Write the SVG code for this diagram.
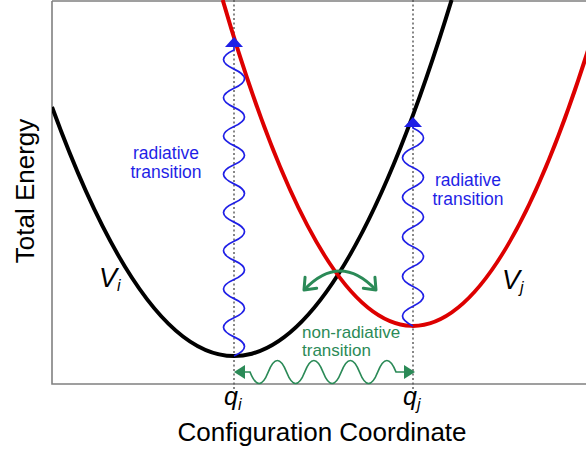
<svg xmlns="http://www.w3.org/2000/svg" width="586" height="454" viewBox="0 0 586 454">
  <style>
    .frame{fill:none;stroke:#808080;stroke-width:1.6}
    .guide{fill:none;stroke:#555;stroke-width:1.4;stroke-dasharray:2,2.5}
    .curve{fill:none;stroke-width:4}
    .blue{fill:none;stroke:#1f1fe6;stroke-width:1.7}
    .green{fill:none;stroke:#2b8a57;stroke-width:1.7}
    .greenarc{fill:none;stroke:#2b8a57;stroke-width:3}
    .lbl{font-family:"Liberation Sans",Arial,sans-serif;fill:#000}
    .it{font-style:italic}
    .bt{font-family:"Liberation Sans",Arial,sans-serif;fill:#1f1fe6;font-size:17.5px;text-anchor:middle}
    .gt{font-family:"Liberation Sans",Arial,sans-serif;fill:#2b8a57;font-size:17px}
  </style>
  <defs>
    <clipPath id="plot"><rect x="52" y="0" width="534" height="384"/></clipPath>
    <marker id="blueHead" viewBox="0 -9 10 18" refX="0" refY="0" markerWidth="10" markerHeight="18" markerUnits="userSpaceOnUse" orient="auto">
      <path d="M0,-9 L10,0 L0,9 z" fill="#1f1fe6"/>
    </marker>
    <marker id="greenHead" viewBox="0 -7 11 14" refX="0" refY="0" markerWidth="11" markerHeight="14" markerUnits="userSpaceOnUse" orient="auto-start-reverse">
      <path d="M0,-7 L11,0 L0,7 z" fill="#2b8a57"/>
    </marker>
    <marker id="greenChevron" viewBox="-13 -10 15 20" refX="0" refY="0" markerWidth="15" markerHeight="20" markerUnits="userSpaceOnUse" orient="auto-start-reverse" overflow="visible">
      <path d="M-10,-8 L0,0 L-10,8" fill="none" stroke="#2b8a57" stroke-width="3" stroke-linecap="round" stroke-linejoin="round"/>
    </marker>
  </defs>

  <g id="axes">
    <path class="frame" d="M52,1 H586 M52,1 V384 H586"/>
  </g>

  <g id="guides">
    <line class="guide" x1="234" y1="0" x2="234" y2="389"/>
    <line class="guide" x1="413" y1="0" x2="413" y2="389"/>
  </g>

  <g id="Vi" clip-path="url(#plot)">
    <path class="curve" stroke="#000" d="M52,107 Q251.8,653.9 451.6,0"/>
  </g>
  <g id="Vj" clip-path="url(#plot)">
    <path class="curve" stroke="#dd0000" d="M222.7,0 Q411.35,646.1 600,11.3"/>
  </g>

  <g id="connectors">
    <path id="rad-i" class="blue" marker-end="url(#blueHead)" d="M234,356 q21,-9.5625 0,-19.125 t0,-19.125 t0,-19.125 t0,-19.125 t0,-19.125 t0,-19.125 t0,-19.125 t0,-19.125 t0,-19.125 t0,-19.125 t0,-19.125 t0,-19.125 t0,-19.125 t0,-19.125 t0,-19.125 t0,-19.125 V47"/>
    <path id="rad-j" class="blue" marker-end="url(#blueHead)" d="M413,326 q-21,-9.9 0,-19.8 t0,-19.8 t0,-19.8 t0,-19.8 t0,-19.8 t0,-19.8 t0,-19.8 t0,-19.8 t0,-19.8 t0,-19.8 V127"/>
    <path id="nonrad" class="green" marker-start="url(#greenHead)" marker-end="url(#greenHead)" d="M245,372 H250 q9.125,23 18.25,0 t18.25,0 t18.25,0 t18.25,0 t18.25,0 t18.25,0 t18.25,0 t18.25,0 H404"/>
    <path id="crossing" class="greenarc" marker-start="url(#greenChevron)" marker-end="url(#greenChevron)" d="M304,290 Q340,252 376,290"/>
  </g>

  <g id="labels">
    <text class="bt" x="166" y="159">radiative</text>
    <text class="bt" x="166" y="178">transition</text>
    <text class="bt" x="468" y="186">radiative</text>
    <text class="bt" x="468" y="205">transition</text>
    <text class="gt" x="302" y="338">non-radiative</text>
    <text class="gt" x="302" y="356">transition</text>
    <text class="lbl it" x="99" y="287" font-size="27">V<tspan font-size="16" dy="4">i</tspan></text>
    <text class="lbl it" x="502" y="289" font-size="27">V<tspan font-size="16" dy="4">j</tspan></text>
    <text class="lbl it" x="224" y="405" font-size="25">q<tspan font-size="16" dy="5">i</tspan></text>
    <text class="lbl it" x="403" y="405" font-size="25">q<tspan font-size="16" dy="5">j</tspan></text>
    <text class="lbl" x="322" y="441" font-size="26" text-anchor="middle">Configuration Coordinate</text>
    <text class="lbl" font-size="26" text-anchor="middle" transform="translate(34,191) rotate(-90)">Total Energy</text>
  </g>
</svg>
